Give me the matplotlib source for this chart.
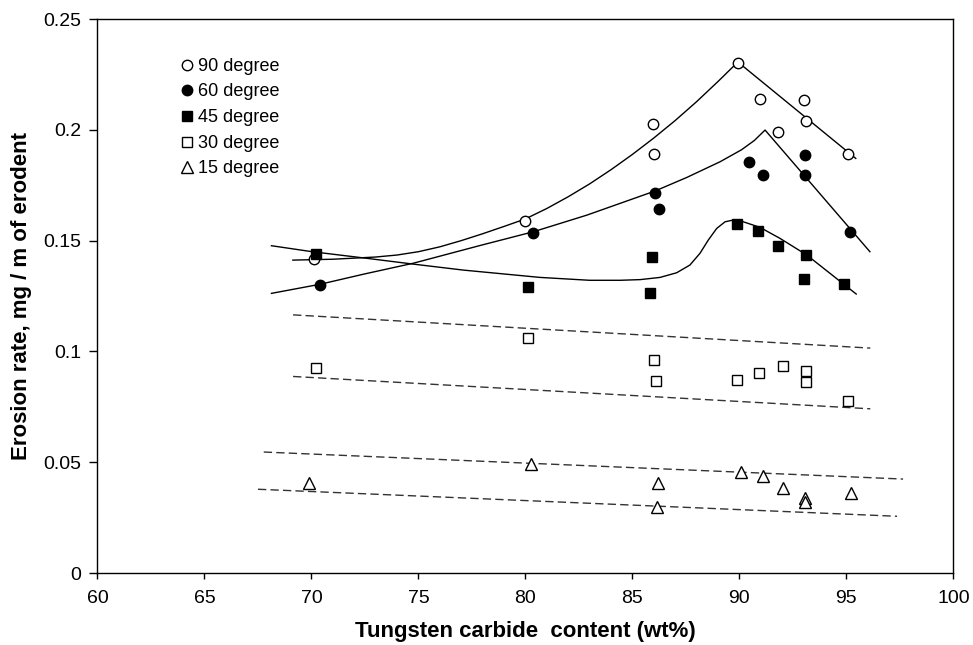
import matplotlib
matplotlib.use("Agg")
import matplotlib.pyplot as plt

plt.rcParams["font.family"] = ["Liberation Sans", "DejaVu Sans"]

# ---------- measured points ----------
x90 = [70.1, 80.0, 85.95, 86.03, 89.95, 90.97, 91.81, 93.04, 93.1, 95.07]
y90 = [0.1415, 0.1587, 0.2025, 0.1892, 0.2300, 0.2140, 0.1990, 0.2136, 0.2039, 0.1891]

x60 = [70.39, 80.34, 86.07, 86.23, 90.43, 91.1, 93.09, 93.08, 95.18]
y60 = [0.1298, 0.1534, 0.1717, 0.1642, 0.1855, 0.1795, 0.1888, 0.1795, 0.1539]

x45 = [70.23, 80.13, 85.93, 85.82, 89.91, 90.89, 91.81, 93.1, 93.0, 94.89]
y45 = [0.1440, 0.1290, 0.1426, 0.1265, 0.1575, 0.1542, 0.1475, 0.1434, 0.1329, 0.1305]

x30 = [70.23, 80.1, 86.03, 86.09, 89.9, 90.94, 92.05, 93.1, 93.1, 95.06]
y30 = [0.0927, 0.1062, 0.0962, 0.0867, 0.0870, 0.0902, 0.0936, 0.0912, 0.0863, 0.0777]

x15 = [69.89, 80.24, 86.2, 86.17, 90.07, 91.11, 92.05, 93.09, 93.09, 95.24]
y15 = [0.0405, 0.0491, 0.0405, 0.0297, 0.0454, 0.0439, 0.0382, 0.0337, 0.0322, 0.0363]

# ---------- trend curves ----------
fit90_x = [69.13, 70, 71, 72, 73, 74, 75, 76, 77, 78, 79, 80, 81, 82, 83, 84, 85, 86, 87, 88, 89, 89.93, 95.44]
fit90_y = [0.1412, 0.1414, 0.1416, 0.1421, 0.1426, 0.1435, 0.1450, 0.1472, 0.1500, 0.1531, 0.1564, 0.1598, 0.1645,
           0.1698, 0.1756, 0.1820, 0.1889, 0.1963, 0.2042, 0.2127, 0.2218, 0.2306, 0.1871]

fit60_x = [68.13, 70.4, 72.5, 74.76, 77.88, 80.37, 82.87, 86.06, 87.54, 89.1, 90.1, 90.7, 91.2, 96.1]
fit60_y = [0.1262, 0.1303, 0.1350, 0.1398, 0.1478, 0.1540, 0.1615, 0.1724, 0.1785, 0.1856, 0.1910, 0.1952, 0.1999, 0.1450]

fit45_x = [68.13, 70.03, 72.6, 74.76, 77.1, 80.68, 83.0, 84.42, 85.36, 86.29, 87.07, 87.69, 88.16, 88.55,
           88.94, 89.33, 89.72, 90.18, 90.96, 91.9, 93.15, 95.46]
fit45_y = [0.1477, 0.1450, 0.1420, 0.1394, 0.1367, 0.1334, 0.1321, 0.1321, 0.1324, 0.1334, 0.1355, 0.1390,
           0.1443, 0.1503, 0.1555, 0.1585, 0.1593, 0.1585, 0.1560, 0.1510, 0.1435, 0.1259]

band30_x = [69.14, 96.12]
band30_hi = [0.1165, 0.1015]
band30_lo = [0.0887, 0.0741]

band15_hi_x = [67.77, 97.65]
band15_hi = [0.0546, 0.0424]
band15_lo_x = [67.5, 97.37]
band15_lo = [0.0378, 0.0256]

fig = plt.figure(figsize=(9.73, 6.45), dpi=100)
ax = fig.add_axes([0.1002, 0.1116, 0.8796, 0.8589])

lw = 1.0
ax.plot(fit90_x, fit90_y, color="black", lw=lw)
ax.plot(fit60_x, fit60_y, color="black", lw=lw)
ax.plot(fit45_x, fit45_y, color="black", lw=lw)
dash = dict(color="#333333", lw=1.0, ls=(0, (6, 3)))
ax.plot(band30_x, band30_hi, **dash)
ax.plot(band30_x, band30_lo, **dash)
ax.plot(band15_hi_x, band15_hi, **dash)
ax.plot(band15_lo_x, band15_lo, **dash)

mk = dict(ls="none", mec="black", mew=1.0)
ax.plot(x90, y90, "o", mfc="white", ms=7.5, label="90 degree", **mk)
ax.plot(x60, y60, "o", mfc="black", ms=7.5, label="60 degree", **mk)
ax.plot(x45, y45, "s", mfc="black", ms=7.5, label="45 degree", **mk)
ax.plot(x30, y30, "s", mfc="white", ms=7.5, label="30 degree", **mk)
ax.plot(x15, y15, "^", mfc="white", ms=8, label="15 degree", **mk)

ax.set_xlim(60, 100)
ax.set_ylim(0, 0.25)
ax.set_xticks(range(60, 101, 5))
ax.set_yticks([0, 0.05, 0.1, 0.15, 0.2, 0.25])
ax.set_yticklabels(["0", "0.05", "0.1", "0.15", "0.2", "0.25"])
ax.tick_params(direction="out", width=1, labelsize=14)
ax.tick_params(axis="y", length=5.5, pad=6)
ax.tick_params(axis="x", length=4, pad=8)
for s in ax.spines.values():
    s.set_linewidth(1.0)

ax.set_xlabel("Tungsten carbide  content (wt%)", fontsize=16, fontweight="bold", labelpad=10)
ax.set_ylabel("Erosion rate, mg / m of erodent", fontsize=16, fontweight="bold", labelpad=8)

ax.legend(loc="upper left", bbox_to_anchor=(0.0885, 0.943), frameon=False,
          fontsize=13, handlelength=0.7, handletextpad=0.25, labelspacing=0.48,
          borderaxespad=0)

fig.savefig("out.png", dpi=100)
